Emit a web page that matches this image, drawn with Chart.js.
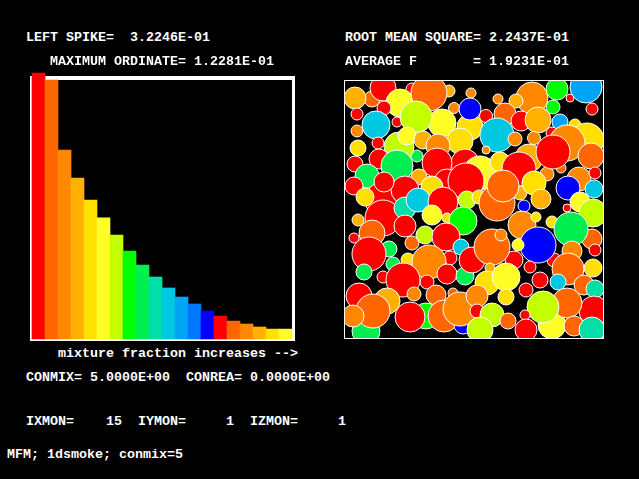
<!DOCTYPE html>
<html>
<head>
<meta charset="utf-8">
<title>MFM; 1dsmoke; conmix=5</title>
<script src="https://cdn.jsdelivr.net/npm/chart.js@4"></script>
<style>
html, body { margin: 0; padding: 0; background: #000; width: 639px; height: 479px; overflow: hidden; }
canvas { position: absolute; }
#barChart { left: 28px; top: 66px; }
#bubbleChart { left: 343px; top: 79px; }
.t { position: absolute; color: #fff; font: bold 13.33px/16px "Liberation Mono", monospace; white-space: pre; }
</style>
</head>
<body>
<canvas id="barChart" width="268" height="276" style="width:268px;height:276px"></canvas>
<canvas id="bubbleChart" width="262" height="261" style="width:262px;height:261px"></canvas>
<div class="t" style="left:26px;top:30px">LEFT SPIKE=  3.2246E-01</div>
<div class="t" style="left:345px;top:30px">ROOT MEAN SQUARE= 2.2437E-01</div>
<div class="t" style="left:50px;top:54px">MAXIMUM ORDINATE= 1.2281E-01</div>
<div class="t" style="left:345px;top:54px">AVERAGE F       = 1.9231E-01</div>
<div class="t" style="left:58px;top:346px">mixture fraction increases --&gt;</div>
<div class="t" style="left:26px;top:370px">CONMIX= 5.0000E+00  CONREA= 0.0000E+00</div>
<div class="t" style="left:26px;top:414px">IXMON=    15  IYMON=     1  IZMON=     1</div>
<div class="t" style="left:7px;top:447px">MFM; 1dsmoke; conmix=5</div>
<script>
var palette = ['#ff0000', '#ff6600', '#ff8800', '#ffb000', '#ffe000', '#ffff26', '#c4ff00',
    '#00ff00', '#00ee50', '#00dfa5', '#00c8e0', '#00a5f5', '#0078ff', '#0000ff'];

/* pdf of mixture fraction */
var binLabels = ['1', '2', '3', '4', '5', '6', '7', '8', '9', '10', '11', '12', '13', '14', '15', '16', '17', '18', '19', '20'];
var binValues = [0.1261, 0.12281, 0.0896, 0.0763, 0.0659, 0.0574, 0.0493, 0.0417, 0.0351, 0.0294,
    0.0242, 0.0199, 0.0166, 0.0133, 0.0109, 0.0085, 0.0071, 0.0057, 0.0047, 0.0047];
var binColours = [0, 1, 2, 3, 4, 5, 6, 7, 8, 9, 10, 11, 12, 13, 0, 1, 2, 3, 4, 5];
var ordinateMax = 0.12281;

/* fluid parcels */
var parcelX = [67, 27, 38, 10, 104, 55, 84, 126, 109, 39, 12, 97, 52, 71, 31, 12, 125, 125, 33, 72, 54, 62, 78, 115, 93, 13, 34, 10, 120, 92, 52, 22, 74,
    38, 60, 9, 39, 102, 87, 135, 121, 20, 38, 60, 73, 60, 98, 122, 134,
    225, 187, 212, 241, 247, 153, 171, 208, 141, 160, 176, 193, 230, 215, 152, 170, 207, 189, 141, 242, 222, 184, 216, 202, 208, 246, 155, 174, 234, 250, 223, 249, 175, 189, 152, 158, 196, 179, 222, 235, 248,
    13, 87, 102, 118, 27, 9, 44, 24, 67, 80, 101, 116, 63, 105, 84, 48, 19, 38, 82, 58, 102, 120, 127, 14, 42, 21, 28, 8, 69, 91, 108, 81, 65, 99, 118, 115,
    177, 191, 207, 247, 250, 226, 227, 209, 169, 193, 173, 147, 156, 185, 223, 248, 145, 142, 161, 195, 239, 213, 250, 181, 161, 132, 132, 249, 207, 222, 198, 180, 147, 163, 181, 229, 247, 135];
var parcelY = [8, 18, 7, 17, 10, 22, 12, 12, 27, 27, 33, 42, 41, 36, 44, 50, 46, 28, 62, 75, 66, 55, 59, 60, 65, 67, 78, 83, 82, 82, 85, 95, 96,
    119, 109, 105, 101, 101, 106, 92, 100, 116, 137, 127, 119, 145, 121, 119, 116,
    17, 17, 8, 6, 28, 18, 20, 26, 35, 33, 40, 39, 44, 41, 54, 58, 52, 57, 69, 59, 62, 77, 87, 93, 71, 75, 81, 88, 98, 92, 107, 108, 112, 102, 122, 105, 118, 125, 127, 121, 132,
    139, 134, 137, 140, 152, 157, 168, 173, 162, 154, 156, 166, 179, 177, 181, 183, 191, 196, 201, 199, 193, 195, 179, 215, 220, 250, 230, 235, 213, 214, 212, 235, 236, 235, 244, 228,
    144, 136, 141, 158, 169, 148, 170, 179, 179, 164, 164, 166, 154, 186, 188, 187, 187, 202, 196, 199, 204, 201, 208, 209, 216, 215, 230, 230, 244, 222, 226, 234, 234, 240, 249, 245, 249, 249];
var parcelR = [6, 8, 13, 11, 6, 14, 18, 5, 5.5, 7, 6, 14, 5, 16, 14, 6, 13, 11, 6, 6, 15, 9, 9, 13, 12, 8, 10, 8, 14, 15, 16, 12, 8,
    18, 14, 9, 10, 13, 11, 17, 18, 9, 18, 11, 12, 11, 15, 9, 7,
    4, 16, 11, 16, 6, 5, 7, 7, 6.5, 11, 10, 13, 6, 8, 17, 7, 6, 6.5, 4, 17, 18, 14, 5, 7, 17, 13, 10, 17, 12, 6, 12, 9, 7, 12, 18, 16, 10, 6, 4, 10, 14,
    6, 10, 5, 14, 13, 5, 8, 17, 7, 9, 14, 8, 7, 7, 17, 7, 8, 6, 7, 17, 10, 9, 13, 13, 13, 14, 17, 11, 7, 10, 5, 13, 15, 16, 9, 17,
    14, 5, 6, 10, 6, 17, 10, 7, 9, 18, 6, 18, 6, 6, 16, 9, 5, 12, 14, 8, 10, 8, 9, 7, 8, 11, 7, 15, 14, 15, 16, 5, 12, 8, 11, 10, 13, 13];
var parcelBin = [0, 1, 0, 3, 3, 5, 1, 2, 2, 0, 0, 5, 0, 6, 10, 2, 4, 13, 0, 8, 6, 5, 3, 4, 2, 4, 0, 0, 0, 0, 8, 8, 3,
    0, 0, 0, 0, 0, 4, 5, 0, 4, 0, 9, 10, 0, 0, 6, 4,
    0, 2, 7, 11, 0, 2, 3, 7, 0, 1, 0, 3, 4, 11, 10, 2, 0, 2, 2, 4, 2, 3, 1, 2, 0, 1, 4, 0, 2, 0, 13, 10, 3, 4, 1, 1, 3, 13, 0, 5, 6,
    3, 5, 4, 7, 1, 0, 8, 0, 1, 6, 0, 10, 4, 0, 2, 8, 8, 0, 0, 0, 0, 8, 0, 0, 3, 8, 1, 2, 2, 1, 1, 7, 0, 1, 13, 2,
    2, 4, 4, 1, 0, 8, 2, 0, 0, 13, 5, 1, 2, 0, 1, 4, 3, 4, 5, 0, 1, 10, 9, 0, 4, 2, 0, 0, 5, 1, 6, 0, 6, 1, 0, 1, 9, 6];

// white frame behind the bars, sides are not the same thickness in the original
var barFrame = {
    id: 'barFrame',
    beforeDatasetsDraw: function (chart) {
        var a = chart.chartArea, c = chart.ctx;
        c.save();
        c.fillStyle = '#fff';
        c.fillRect(a.left - 2, a.top - 4, a.right - a.left + 5, 4);
        c.fillRect(a.left - 2, a.top - 4, 2, a.bottom - a.top + 6);
        c.fillRect(a.right, a.top - 4, 3, a.bottom - a.top + 6);
        c.fillRect(a.left - 2, a.bottom, a.right - a.left + 5, 2);
        c.restore();
    }
};

var thinFrame = {
    id: 'thinFrame',
    afterDatasetsDraw: function (chart) {
        var a = chart.chartArea, c = chart.ctx;
        c.save();
        c.strokeStyle = '#fff';
        c.lineWidth = 1;
        c.strokeRect(a.left - 0.5, a.top - 0.5, a.right - a.left + 1, a.bottom - a.top + 1);
        c.restore();
    }
};

var barCtx = document.getElementById('barChart').getContext('2d');
var barChart = new Chart(barCtx, {
    type: 'bar',
    data: {
        labels: binLabels,
        datasets: [{
            data: binValues,
            backgroundColor: binColours.map(function (i) { return palette[i]; }),
            borderWidth: 0,
            barPercentage: 1,
            categoryPercentage: 1,
            clip: false
        }]
    },
    options: {
        responsive: false,
        animation: false,
        layout: { padding: { left: 4, right: 4, top: 14, bottom: 3 } },
        plugins: { legend: { display: false }, tooltip: { enabled: false } },
        scales: {
            x: { display: false },
            y: { display: false, min: 0, max: ordinateMax }
        }
    },
    plugins: [barFrame]
});

var bubbleCtx = document.getElementById('bubbleChart').getContext('2d');
var bubbleChart = new Chart(bubbleCtx, {
    type: 'bubble',
    data: {
        datasets: [{
            data: parcelX.map(function (x, i) { return { x: x, y: parcelY[i], r: parcelR[i] }; }),
            backgroundColor: parcelBin.map(function (i) { return palette[i]; }),
            borderColor: '#fff',
            borderWidth: 1,
            clip: 0
        }]
    },
    options: {
        responsive: false,
        animation: false,
        layout: { padding: 2, autoPadding: false },
        plugins: { legend: { display: false }, tooltip: { enabled: false } },
        scales: {
            x: { display: false, min: 0, max: 258 },
            y: { display: false, min: 0, max: 257, reverse: true }
        }
    },
    plugins: [thinFrame]
});
</script>
</body>
</html>
